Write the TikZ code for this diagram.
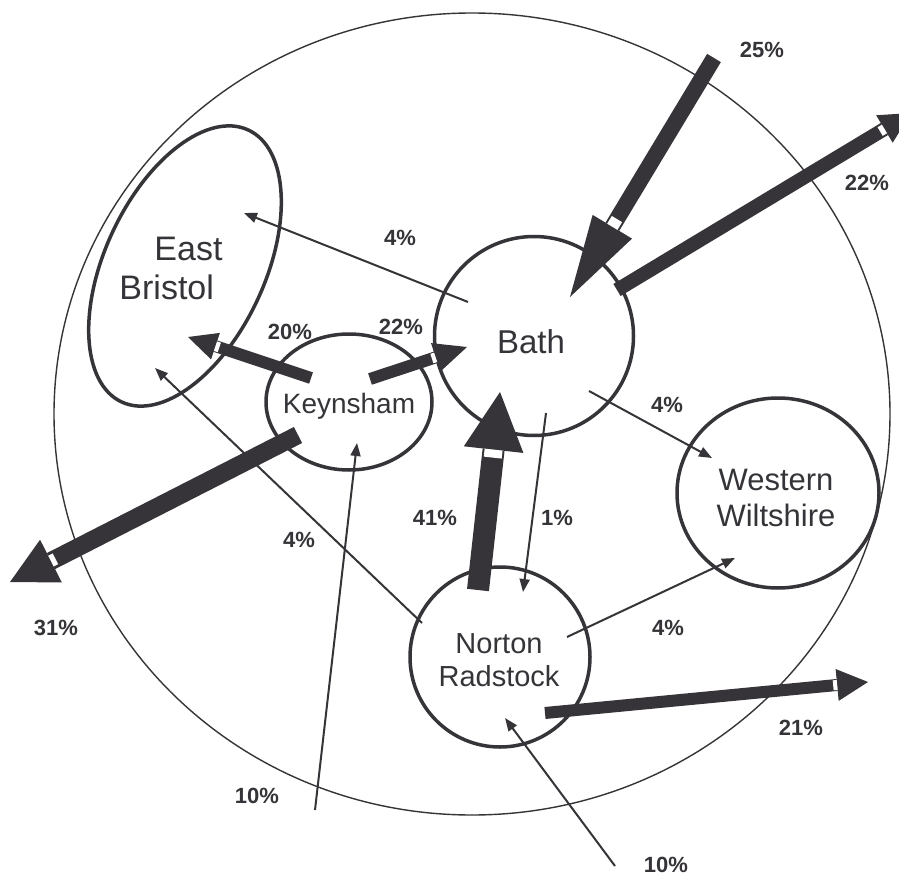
\documentclass[tikz,border=0pt]{standalone}
\usepackage{fontspec}
\setmainfont{Liberation Sans}
\usetikzlibrary{arrows.meta,calc,shapes.geometric}
\definecolor{ink}{RGB}{54,52,56}
% #1 start, #2 tip, #3 shaft width, #4 head length, #5 head half width, #6 white mark thickness, #7 white mark half length
\newcommand\flowarrow[7]{%
  \path ($(#2)!#4!(#1)$) coordinate (hb-#2);
  \draw[ink, line width=#3] (#1) -- (hb-#2);
  \fill[ink] (#2) -- ($(hb-#2)!#5!90:(#2)$) -- ($(hb-#2)!#5!-90:(#2)$) -- cycle;
  \path ($(hb-#2)!0.5*#6!(#1)$) coordinate (wm-#2);
  \draw[white, line width=#6] ($(wm-#2)!#7!90:(#2)$) -- ($(wm-#2)!#7!-90:(#2)$);
}
\tikzset{
  area/.style={draw=ink, line width=3.5pt, inner sep=0pt},
  areatext/.style={text=ink, inner sep=0pt, align=center},
  pct/.style={text=ink, inner sep=0pt, font=\fontsize{22}{22}\selectfont\bfseries},
  thin/.style={ink, line width=2pt, -{Triangle[length=13pt,width=10pt]}},
}
\begin{document}
\begin{tikzpicture}[x=1pt,y=-1pt]
\useasboundingbox (0,0) rectangle (899,877);
\clip (0,0) rectangle (899,877);
\fill[white] (0,0) rectangle (899,877);

% outer region
\node[draw=ink, line width=1.4pt, ellipse, minimum width=836pt, minimum height=802pt, inner sep=0pt] (region) at (472,414) {};

% areas
\node[area, ellipse, minimum width=300pt, minimum height=160pt, rotate=65] (eb) at (185,266) {};
\node[areatext, font=\fontsize{34}{39}\selectfont, align=left] (ebt) at (171,268) {\hspace*{35pt}East\\Bristol};

\node[area, ellipse, minimum width=166pt, minimum height=136pt] (key) at (349,402) {};
\node[areatext, font=\fontsize{28}{28}\selectfont, anchor=base] (keyt) at (349,413) {Keynsham};

\node[area, circle, minimum size=199pt] (bath) at (534,336) {};
\node[areatext, font=\fontsize{33}{33}\selectfont, anchor=base] (batht) at (531,353) {Bath};

\node[area, ellipse, minimum width=202pt, minimum height=190pt] (ww) at (778,493) {};
\node[areatext, font=\fontsize{31}{36}\selectfont] (wwt) at (776,498) {Western\\Wiltshire};

\node[area, circle, minimum size=180pt] (nr) at (500,657) {};
\node[areatext, font=\fontsize{29}{33}\selectfont] (nrt) at (499,660) {Norton\\Radstock};

% thin connectors
\coordinate (bath-eb) at (468,302);  \coordinate (eb-in1) at (244,213);
\coordinate (nr-eb) at (422,623);    \coordinate (eb-in2) at (155,368);
\coordinate (ext-k) at (315,810);    \coordinate (key-in) at (357,443);
\coordinate (bath-ww) at (589,391);  \coordinate (ww-in1) at (712,458);
\coordinate (bath-nr) at (546,413);  \coordinate (nr-in1) at (523,592);
\coordinate (nr-ww) at (567,637);    \coordinate (ww-in2) at (735,558);
\coordinate (ext-nr) at (615,866);   \coordinate (nr-in2) at (505,718);

\draw[thin] (bath-eb) -- (eb-in1);
\draw[thin] (nr-eb) -- (eb-in2);
\draw[thin] (ext-k) -- (key-in);
\draw[thin] (bath-ww) -- (ww-in1);
\draw[thin] (bath-nr) -- (nr-in1);
\draw[thin] (nr-ww) -- (ww-in2);
\draw[thin] (ext-nr) -- (nr-in2);

% thick flows
\coordinate (ext-bath) at (714,58);  \coordinate (bath-in1) at (570,297);
\coordinate (bath-out) at (617,290); \coordinate (ext-ne) at (911,113);
\coordinate (key-out) at (298,435);  \coordinate (ext-sw) at (10,582);
\coordinate (nr-bath) at (478,590);  \coordinate (bath-in2) at (500,392);
\coordinate (key-eb) at (311,378);   \coordinate (eb-in3) at (188,337);
\coordinate (key-bath) at (370,379); \coordinate (bath-in3) at (467,347);
\coordinate (nr-out) at (545,713);   \coordinate (ext-e) at (868,682);

\flowarrow{ext-bath}{bath-in1}{16pt}{82pt}{23pt}{9pt}{6pt}
\flowarrow{bath-out}{ext-ne}{14pt}{31pt}{16pt}{5pt}{5pt}
\flowarrow{key-out}{ext-sw}{18pt}{46pt}{24pt}{5pt}{6pt}
\flowarrow{nr-bath}{bath-in2}{22pt}{58pt}{30pt}{8pt}{9pt}
\flowarrow{key-eb}{eb-in3}{12pt}{29pt}{14pt}{4pt}{5pt}
\flowarrow{key-bath}{bath-in3}{12pt}{33pt}{15pt}{4pt}{5pt}
\flowarrow{nr-out}{ext-e}{12pt}{31pt}{16pt}{4pt}{5pt}

% labels
\node[pct] (l25) at (762,50) {25\%};
\node[pct] (l22a) at (867,183) {22\%};
\node[pct] (l4a) at (400,238) {4\%};
\node[pct] (l20) at (290,332) {20\%};
\node[pct] (l22b) at (401,327) {22\%};
\node[pct] (l4b) at (667,405) {4\%};
\node[pct] (l41) at (435,518) {41\%};
\node[pct] (l1) at (557,518) {1\%};
\node[pct] (l4c) at (299,540) {4\%};
\node[pct] (l31) at (56,628) {31\%};
\node[pct] (l4d) at (668,628) {4\%};
\node[pct] (l21) at (801,728) {21\%};
\node[pct] (l10a) at (257,796) {10\%};
\node[pct] (l10b) at (666,865) {10\%};
\end{tikzpicture}
\end{document}
